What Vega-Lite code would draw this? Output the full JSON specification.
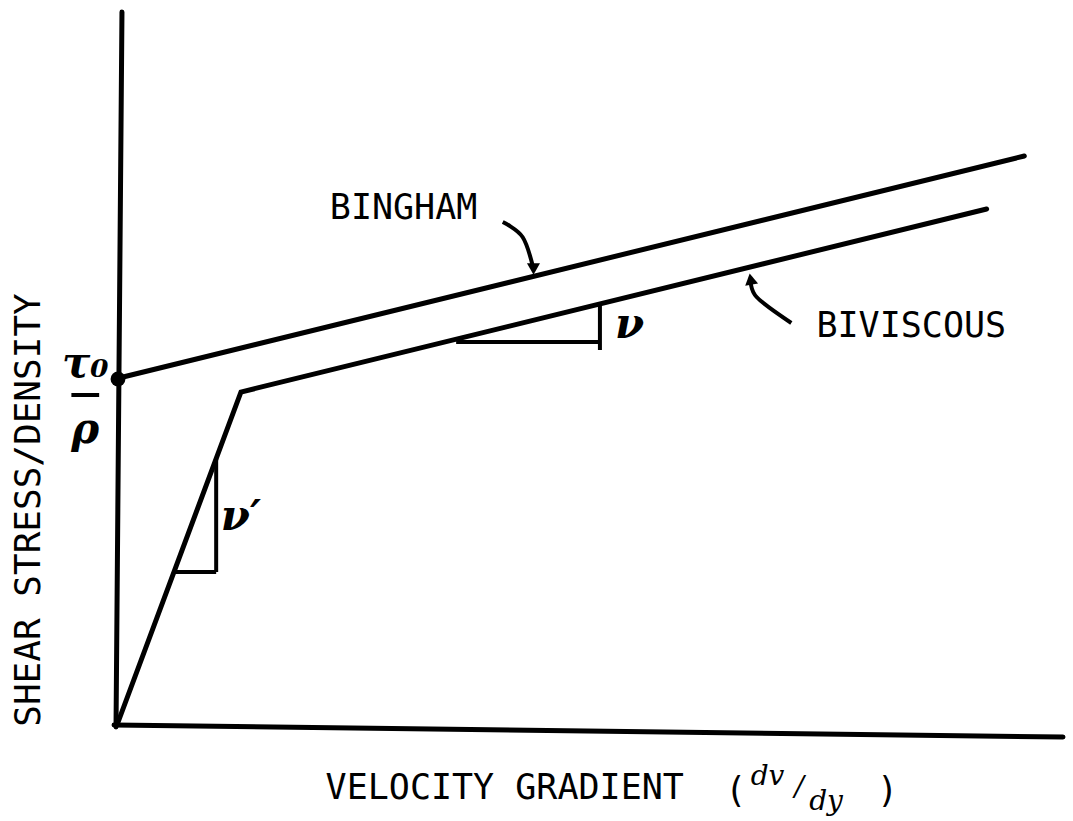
{
  "$schema": "https://vega.github.io/schema/vega-lite/v6.json",
  "width": 1073,
  "height": 821,
  "padding": 0,
  "autosize": {"type": "fit", "contains": "padding"},
  "background": "white",
  "config": {"view": {"stroke": null}},
  "datasets": {
    "lines": [
      {"id": "yaxis", "o": 1, "x": 0.06, "y": 7.13},
      {"id": "yaxis", "o": 2, "x": 0.0, "y": -0.02},
      {"id": "xaxis", "o": 1, "x": -0.02, "y": 0.0},
      {"id": "xaxis", "o": 2, "x": 9.55, "y": -0.12},
      {"id": "bingham", "o": 1, "x": 0.03, "y": 3.47},
      {"id": "bingham", "o": 2, "x": 9.16, "y": 5.69},
      {"id": "biviscous", "o": 1, "x": 0.01, "y": 0.0},
      {"id": "biviscous", "o": 2, "x": 1.26, "y": 3.33},
      {"id": "biviscous", "o": 3, "x": 8.78, "y": 5.16}
    ],
    "thin": [
      {"id": "tri1h", "o": 1, "x": 0.58, "y": 1.53},
      {"id": "tri1h", "o": 2, "x": 1.01, "y": 1.53},
      {"id": "tri1v", "o": 1, "x": 1.01, "y": 1.53},
      {"id": "tri1v", "o": 2, "x": 1.01, "y": 2.66},
      {"id": "tri2h", "o": 1, "x": 3.43, "y": 3.83},
      {"id": "tri2h", "o": 2, "x": 4.88, "y": 3.83},
      {"id": "tri2v", "o": 1, "x": 4.88, "y": 3.75},
      {"id": "tri2v", "o": 2, "x": 4.88, "y": 4.22},
      {"id": "fracbar", "o": 1, "x": -0.45, "y": 3.3},
      {"id": "fracbar", "o": 2, "x": -0.17, "y": 3.3}
    ],
    "arrows": [
      {"id": "a1", "o": 1, "x": 3.9, "y": 5.03},
      {"id": "a1", "o": 2, "x": 4.1, "y": 4.88},
      {"id": "a1", "o": 3, "x": 4.21, "y": 4.56},
      {"id": "a2", "o": 1, "x": 6.81, "y": 4.02},
      {"id": "a2", "o": 2, "x": 6.46, "y": 4.28},
      {"id": "a2", "o": 3, "x": 6.4, "y": 4.46}
    ],
    "heads": [
      {"id": "down", "x": 4.21, "y": 4.56},
      {"id": "up", "x": 6.4, "y": 4.46}
    ],
    "dot": [{"x": 0.02, "y": 3.46}],
    "mono": [
      {"text": "BINGHAM", "x": 2.9, "y": 5.17},
      {"text": "BIVISCOUS", "x": 8.02, "y": 3.99},
      {"text": "VELOCITY GRADIENT", "x": 3.92, "y": -0.63},
      {"text": "(", "x": 6.25, "y": -0.66},
      {"text": ")", "x": 7.78, "y": -0.66}
    ],
    "ytitle": [{"text": "SHEAR STRESS/DENSITY", "x": -0.88, "y": 2.15}],
    "math": [
      {"text": "ν", "x": 5.18, "y": 4.0},
      {"text": "ν′", "x": 1.26, "y": 2.08},
      {"text": "τ₀", "x": -0.31, "y": 3.61},
      {"text": "ρ", "x": -0.31, "y": 2.95}
    ],
    "frac": [
      {"text": "dv", "x": 6.57, "y": -0.52},
      {"text": "/", "x": 6.89, "y": -0.63},
      {"text": "dy", "x": 7.16, "y": -0.77}
    ]
  },
  "encoding": {
    "x": {"field": "x", "type": "quantitative", "scale": {"domain": [-1.17, 9.56], "nice": false, "zero": false}, "axis": null},
    "y": {"field": "y", "type": "quantitative", "scale": {"domain": [-0.96, 7.25], "nice": false, "zero": false}, "axis": null}
  },
  "layer": [
    {
      "data": {"name": "lines"},
      "mark": {"type": "line", "color": "black", "strokeWidth": 5, "strokeCap": "round", "strokeJoin": "miter"},
      "encoding": {"detail": {"field": "id"}, "order": {"field": "o", "type": "quantitative"}}
    },
    {
      "data": {"name": "thin"},
      "mark": {"type": "line", "color": "black", "strokeWidth": 4, "strokeCap": "butt"},
      "encoding": {"detail": {"field": "id"}, "order": {"field": "o", "type": "quantitative"}}
    },
    {
      "data": {"name": "arrows"},
      "mark": {"type": "line", "color": "black", "strokeWidth": 4, "interpolate": "cardinal"},
      "encoding": {"detail": {"field": "id"}, "order": {"field": "o", "type": "quantitative"}}
    },
    {
      "data": {"name": "heads"},
      "transform": [{"filter": "datum.id === 'down'"}],
      "mark": {"type": "point", "shape": "triangle-down", "filled": true, "color": "black", "size": 170, "opacity": 1}
    },
    {
      "data": {"name": "heads"},
      "transform": [{"filter": "datum.id === 'up'"}],
      "mark": {"type": "point", "shape": "triangle-up", "filled": true, "color": "black", "size": 170, "opacity": 1, "angle": -10}
    },
    {
      "data": {"name": "dot"},
      "mark": {"type": "circle", "color": "black", "size": 220, "opacity": 1}
    },
    {
      "data": {"name": "mono"},
      "mark": {"type": "text", "font": "DejaVu Sans Mono", "fontSize": 35, "color": "black", "align": "center", "baseline": "middle"},
      "encoding": {"text": {"field": "text"}}
    },
    {
      "data": {"name": "ytitle"},
      "mark": {"type": "text", "font": "DejaVu Sans Mono", "fontSize": 36, "color": "black", "align": "center", "baseline": "middle", "angle": 270},
      "encoding": {"text": {"field": "text"}}
    },
    {
      "data": {"name": "math"},
      "mark": {"type": "text", "font": "DejaVu Serif", "fontStyle": "italic", "fontWeight": "bold", "fontSize": 42, "color": "black", "align": "center", "baseline": "middle"},
      "encoding": {"text": {"field": "text"}}
    },
    {
      "data": {"name": "frac"},
      "mark": {"type": "text", "font": "DejaVu Serif", "fontStyle": "italic", "fontSize": 28, "color": "black", "align": "center", "baseline": "middle"},
      "encoding": {"text": {"field": "text"}}
    }
  ]
}
